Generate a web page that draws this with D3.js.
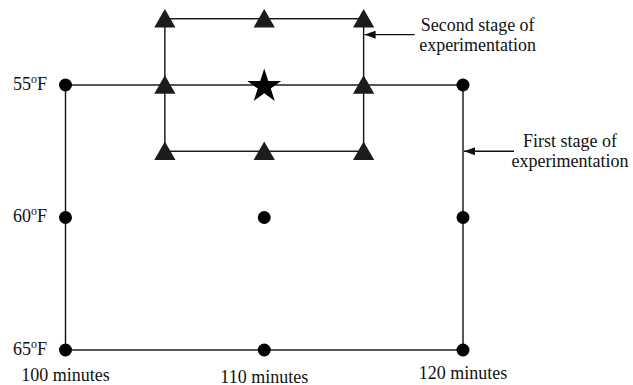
<html>
<head>
<script src="https://d3js.org/d3.v7.min.js"></script>
<style>
  body { margin: 0; background: #fff; }
  text { font-family: "Liberation Serif", "Times New Roman", serif; fill: #111; }
</style>
</head>
<body>
<svg width="633" height="385" id="chart"></svg>
<script>
// factor levels
minutes = [100, 110, 120];
temps = [55, 60, 65];
minuteLabels = ["100 minutes", "110 minutes", "120 minutes"];
tempLabels = ["55", "60", "65"];

// second stage design around the best first-stage point
stage2Minutes = [105, 110, 115];
stage2Temps = [52.5, 55, 57.5];
bestPoint = {minutes: 110, temp: 55};

// callouts
notes = [
  {lines: ["Second stage of", "experimentation"], minutes: 115, temp: 53.1},
  {lines: ["First stage of", "experimentation"], minutes: 120, temp: 57.5}
];

svg = d3.select("#chart");
x = d3.scaleLinear().domain([100, 120]).range([65.5, 463]);
y = d3.scaleLinear().domain([55, 65]).range([85, 350]);

function grid(xs, ys) {
  out = [];
  ys.forEach(t => xs.forEach(m => out.push({minutes: m, temp: t})));
  return out;
}
function isBest(d) { return d.minutes == bestPoint.minutes && d.temp == bestPoint.temp; }

defs = svg.append("defs");
defs.append("marker")
  .attr("id", "arrow")
  .attr("viewBox", "0 0 11 8")
  .attr("refX", 11).attr("refY", 4)
  .attr("markerWidth", 11).attr("markerHeight", 8)
  .attr("markerUnits", "userSpaceOnUse")
  .attr("orient", "auto")
  .append("path").attr("d", "M0,0 L11,4 L0,8 Z").attr("fill", "#111");

lines = svg.append("g").attr("stroke", "#111").attr("stroke-width", 1.4).attr("fill", "none");

// first stage rectangle
lines.append("rect")
  .attr("x", x(d3.min(minutes))).attr("y", y(d3.min(temps)))
  .attr("width", x(d3.max(minutes)) - x(d3.min(minutes)))
  .attr("height", y(d3.max(temps)) - y(d3.min(temps)));

// second stage rectangle
lines.append("rect")
  .attr("x", x(d3.min(stage2Minutes))).attr("y", y(d3.min(stage2Temps)))
  .attr("width", x(d3.max(stage2Minutes)) - x(d3.min(stage2Minutes)))
  .attr("height", y(d3.max(stage2Temps)) - y(d3.min(stage2Temps)));

// first stage points
svg.append("g").selectAll("circle")
  .data(grid(minutes, temps).filter(d => !isBest(d)))
  .enter().append("circle")
  .attr("cx", d => x(d.minutes))
  .attr("cy", d => y(d.temp))
  .attr("r", 6.5)
  .attr("fill", "#000");

// second stage points
triangle = d3.symbol().type(d3.symbolTriangle).size(195);
svg.append("g").selectAll("path")
  .data(grid(stage2Minutes, stage2Temps).filter(d => !isBest(d)))
  .enter().append("path")
  .attr("d", triangle)
  .attr("transform", d => "translate(" + x(d.minutes) + "," + (y(d.temp) + 2.5) + ")")
  .attr("fill", "#1c1c1c");

// best point
svg.append("path")
  .attr("d", d3.symbol().type(d3.symbolStar).size(360))
  .attr("transform", "translate(" + x(bestPoint.minutes) + "," + (y(bestPoint.temp) + 1.5) + ")")
  .attr("fill", "#000");

// temperature labels
tl = svg.append("g").selectAll("text")
  .data(temps)
  .enter().append("text")
  .attr("x", 47)
  .attr("y", d => y(d) + 4.5)
  .attr("text-anchor", "end")
  .attr("font-size", 18);
tl.append("tspan").text((d, i) => tempLabels[i]);
tl.append("tspan").attr("font-size", 12).attr("dy", -7).text("o");
tl.append("tspan").attr("dy", 7).text("F");

// minute labels
labelDy = [31, 32.5, 29];
svg.append("g").selectAll("text")
  .data(minutes)
  .enter().append("text")
  .attr("x", d => x(d))
  .attr("y", (d, i) => y(65) + labelDy[i])
  .attr("text-anchor", "middle")
  .attr("font-size", 18)
  .text((d, i) => minuteLabels[i]);

// callouts
notes.forEach(n => {
  tipX = x(n.minutes) + 1;
  tipY = y(n.temp);
  svg.append("line")
    .attr("x1", tipX + 50).attr("y1", tipY)
    .attr("x2", tipX).attr("y2", tipY)
    .attr("stroke", "#111").attr("stroke-width", 1.4)
    .attr("marker-end", "url(#arrow)");
  t = svg.append("text")
    .attr("text-anchor", "middle")
    .attr("font-size", 18);
  n.lines.forEach((s, i) => {
    t.append("tspan")
      .attr("x", tipX + 57 + (n.minutes == 120 ? 49 : 56))
      .attr("y", tipY - 4 + i * 20)
      .text(s);
  });
});
</script>
</body>
</html>
